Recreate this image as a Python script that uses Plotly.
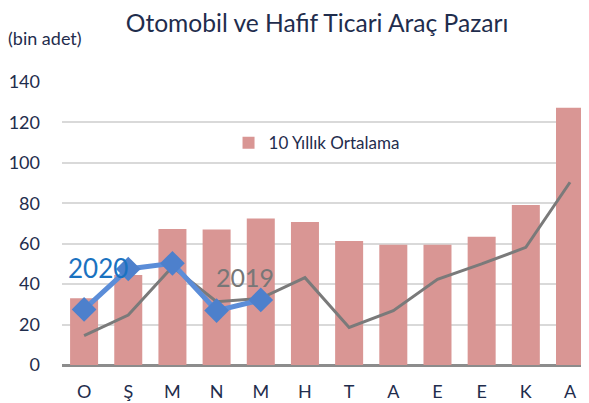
import plotly.graph_objects as go

months = ["O", "Ş", "M", "N", "M", "H", "T", "A", "E", "E", "K", "A"]
avg10 = [33, 44.5, 67.3, 67, 72.5, 70.7, 61.3, 59.5, 59.5, 63.5, 79.2, 127.3]
y2019 = [14.5, 24.7, 48.6, 31.3, 33, 43.2, 18.6, 26.9, 42.4, 50, 58.2, 90.4]
y2020 = [27.5, 47.5, 50.3, 26.9, 32.2]

idx = list(range(len(months)))
FONT = "Lato"
NAVY = "#1f2d4d"

fig = go.Figure()
fig.add_trace(go.Bar(x=idx, y=avg10, name="10 Yıllık Ortalama",
                     marker=dict(color="#d99694", line=dict(width=0)),
                     showlegend=True))
fig.add_trace(go.Scatter(x=idx, y=y2019, mode="lines", name="2019",
                         line=dict(color="#7a7a7a", width=3), showlegend=False))
fig.add_trace(go.Scatter(x=idx[:len(y2020)], y=y2020, mode="lines+markers", name="2020",
                         line=dict(color="#5b8dd8", width=5),
                         marker=dict(symbol="diamond", size=19, color="#4d80cc"),
                         showlegend=False))

fig.add_annotation(x=0.31, y=48, text="2020", showarrow=False, xref="x", yref="y",
                   font=dict(family=FONT, size=26, color="#1a72c0"))
fig.add_annotation(x=3.64, y=43.5, text="2019", showarrow=False, xref="x", yref="y",
                   font=dict(family=FONT, size=25, color="#777777"))
fig.add_annotation(x=0, y=1.0, xref="paper", yref="paper", xanchor="left", yanchor="middle",
                   text="(bin adet)", showarrow=False, xshift=-56, yshift=44,
                   font=dict(family=FONT, size=18, color=NAVY))

fig.update_layout(
    width=581, height=395,
    margin=dict(l=54, r=0, t=74, b=38, autoexpand=False),
    paper_bgcolor="white", plot_bgcolor="white",
    bargap=0.366,
    font=dict(family=FONT, color=NAVY),
    title=dict(text="Otomobil ve Hafif Ticari Araç Pazarı", x=0.532, xanchor="center",
               y=0.962, yanchor="middle", xref="container", yref="container",
               font=dict(family=FONT, size=24.6, color=NAVY)),
    legend=dict(x=0.316, y=0.784, xanchor="left", yanchor="middle",
                bgcolor="rgba(0,0,0,0)", font=dict(family=FONT, size=17, color=NAVY),
                itemwidth=30),
    xaxis=dict(tickmode="array", tickvals=idx, ticktext=months, range=[-0.5, 11.43],
               showgrid=False, zeroline=False, showline=False, ticks="", automargin=False,
               tickfont=dict(family=FONT, size=18, color=NAVY), ticklabelstandoff=14),
    yaxis=dict(range=[0, 140], dtick=20, showgrid=True, gridcolor="#d9d9d9", gridwidth=1.5,
               zeroline=True, zerolinecolor="#8c8c8c", zerolinewidth=2.5,
               showline=False, ticks="", automargin=False,
               tickfont=dict(family=FONT, size=18, color=NAVY), ticklabelstandoff=21),
)

fig.write_html("out.html")
